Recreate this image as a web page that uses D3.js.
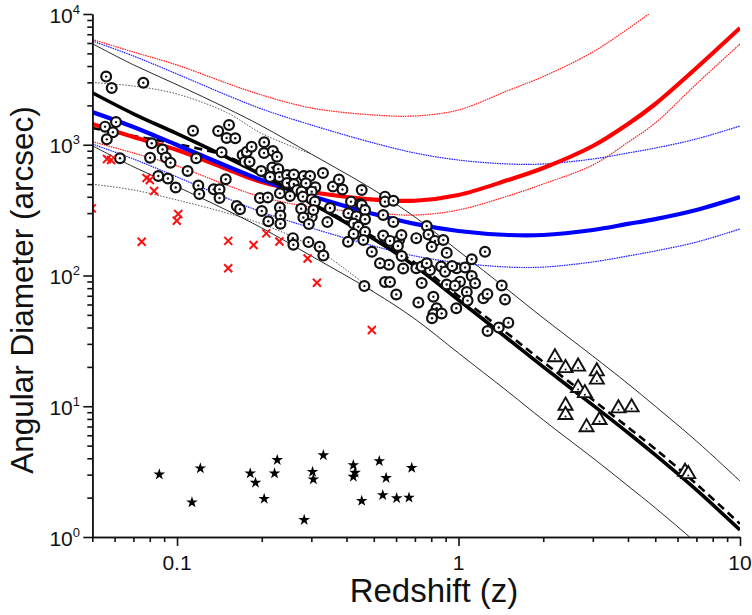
<!DOCTYPE html>
<html>
<head>
<meta charset="utf-8">
<script src="https://cdn.jsdelivr.net/npm/d3@7"></script>
<style>
body { margin: 0; background: #fff; }
text { font-family: "Liberation Sans", Arial, sans-serif; fill: #111; }
</style>
</head>
<body>
<div id="chart"></div>
<script>

// redshift grid shared by the model curves
var zGrid = [0.05, 0.07, 0.1, 0.15, 0.2, 0.3, 0.5, 0.7, 1, 1.5, 2, 3, 4, 5, 7, 10];

var blackModel   = [2500, 1725, 1215, 803, 587, 358, 190, 118, 65, 32.7, 20, 10.2, 6.27, 4.24, 2.29, 1.13];
var blackDashed  = [1343, 1167, 1014, 815, 597, 365, 197, 125, 69.7, 35.7, 21.8, 11.2, 6.90, 4.71, 2.54, 1.26];
var blackUpper   = [5930, 4085, 2878, 1904, 1391, 849, 451, 280, 154, 77.5, 47.3, 24.2, 14.85, 10.0, 5.42, 2.68];
var blackLower   = [984, 678, 478, 316, 231, 141, 74.8, 46.5, 25.5, 12.9, 7.85, 4.02, 2.46, 1.67, 0.90, 0.445];

var redModel     = [1442, 1146, 912, 653, 519, 435, 381, 373, 413, 537, 664, 978, 1442, 2050, 3865, 7816];
var redUpper     = [6390, 5120, 4074, 2960, 2400, 1910, 1689, 1660, 1845, 2600, 3326, 5120, 7710, 10860, null, null];
var redLower     = [1056, 865, 688, 492, 398, 334, 301, 290, 317, 406, 501, 700, 1045, 1466, 2915, 5900];

var blueModel    = [1779, 1367, 995, 688, 537, 406, 295, 248, 219, 204, 204, 223, 248, 270, 317, 398];
var blueUpper    = [6215, 4775, 3475, 2400, 1877, 1416, 1031, 865, 764, 713, 713, 778, 865, 944, 1107, 1391];
var blueLower    = [1013, 778, 567, 391, 306, 231, 168, 141, 125, 116, 116, 127, 141, 154, 180, 227];

// thin gray low-z curves
var grayUpperZ   = [0.05, 0.07, 0.1, 0.15, 0.2, 0.3];
var grayUpper    = [2990, 2813, 2444, 1765, 1219, 849];
var grayLowerZ   = [0.05, 0.07, 0.1, 0.15, 0.2, 0.3, 0.4, 0.5];
var grayLower    = [499, 451, 378, 301, 248, 168, 110, 75];

// [z, angular diameter]
var radioSources = [
[0.056,3320],[0.0586,2720],[0.0759,2980],[0.0607,1490],[0.0555,1375],[0.0592,1245],[0.0563,1100],[0.0627,788],[0.0813,1026],[0.0802,796],
[0.0888,920],[0.0913,799],[0.0948,729],[0.0858,577],[0.0928,552],[0.0989,471],[0.109,630],[0.117,788],[0.114,1280],[0.119,488],
[0.120,420],[0.140,1274],[0.153,1416],[0.150,1126],[0.161,1120],[0.144,875],[0.135,456],[0.1416,456],[0.149,544],[0.1416,392],
[0.163,340],[0.1674,321],[0.171,835],[0.177,885],[0.184,966],[0.174,742],[0.181,742],[0.204,1044],[0.2037,865],[0.219,896],
[0.2265,810],[0.199,630],[0.218,670],[0.229,652],[0.231,567],[0.214,567],[0.246,587],[0.260,592],[0.282,577],[0.297,577],
[0.330,608],[0.246,510],[0.260,501],[0.267,451],[0.287,507],[0.310,473],[0.301,438],[0.358,480],[0.376,542],[0.387,455],
[0.453,451],[0.232,425],[0.252,406],[0.277,438],[0.280,401],[0.301,383],[0.197,392],[0.210,395],[0.309,367],[0.3495,328],
[0.415,367],[0.447,352],[0.548,401],[0.548,367],[0.587,373],[0.200,311],[0.232,331],[0.233,288],[0.211,260],[0.233,249],
[0.276,324],[0.301,282],[0.281,278],[0.294,248],[0.305,317],[0.342,256],[0.406,299],[0.453,346],[0.4655,317],[0.434,284],
[0.4655,269],[0.424,250],[0.4405,236],[0.4655,216],[0.424,208],[0.405,181],[0.459,187],[0.540,290],[0.587,257],[0.492,152],
[0.540,202],[0.571,184],[0.615,187],[0.627,204],[0.609,168],[0.566,121],[0.526,124],[0.628,141],[0.636,113],[0.258,193],
[0.259,172],[0.293,180],[0.321,166],[0.331,142],[0.463,83],[0.771,239],[0.782,206],[0.708,193],[0.825,184],[0.883,187],
[0.803,166],[0.908,149],[1.242,152],[1.114,133],[0.548,89.2],[0.571,89.2],[0.601,71.6],[0.708,113.5],[0.740,117],[0.792,110],
[0.771,124],[0.867,117],[0.896,107],[0.740,87.7],[0.908,85.3],[0.985,113.5],[1.055,115],[1.114,99],[1.145,87.2],[1.012,89.7],
[1.07,74.8],[1.077,64.3],[0.982,56.2],[1.225,66.9],[1.266,72.2],[1.424,83.9],[1.463,65.5],[0.720,62.1],[0.814,68.8],[0.836,56.2],
[0.814,50.8],[0.871,51.2],[0.805,47.1],[1.268,37.6],[1.39,40.0],[1.503,43.6],[0.949,118],[0.971,83.6]
];

var clusters = [
[0.0498,326],[0.0564,778],[0.0583,764],[0.0779,557],[0.080,538],[0.0829,443],[0.0749,181],[0.101,295],[0.0998,262],
[0.152,184],[0.152,113.5],[0.187,171],[0.2075,210],[0.231,182],[0.291,135],[0.314,88],[0.492,38.3]
];

var highZ = [
[2.20,23.7],[2.40,19.6],[2.66,20.1],[3.10,18.5],[3.10,16.0],[2.66,13.8],[2.81,12.6],[2.40,10.1],
[2.40,8.57],[3.70,9.64],[4.12,9.82],[3.17,7.85],[2.85,6.91],[6.38,3.15],[6.55,3.03]
];

var compact = [
[0.0865,3.01],[0.113,1.84],[0.121,3.35],[0.182,3.07],[0.190,2.60],[0.204,1.96],[0.222,3.07],[0.227,3.88],
[0.283,1.35],[0.303,3.15],[0.305,2.76],[0.331,4.22],[0.423,3.55],[0.429,3.10],[0.423,2.89],[0.453,1.89],
[0.523,3.81],[0.538,2.09],[0.553,2.83],[0.603,1.98],[0.667,2.00],[0.682,3.38]
];

var xMajor = [0.1, 1, 10];
var xLabels = ["0.1", "1", "10"];
var yMajor = [1, 10, 100, 1000, 10000];
var yExp = ["0", "1", "2", "3", "4"];


var width = 752, height = 615;
var padL = 92.3, padR = 740, padT = 14, padB = 537;

var svg = d3.select("#chart")
    .append("svg")
    .attr("width", width)
    .attr("height", height);

svg.append("rect").attr("width", width).attr("height", height).attr("fill", "#fff");

var x = d3.scaleLog().domain([0.05, 10]).range([padL, padR]);
var y = d3.scaleLog().domain([1, 10000]).range([padB, padT]);

svg.append("clipPath").attr("id", "plot")
    .append("rect")
    .attr("x", padL).attr("y", padT)
    .attr("width", padR - padL).attr("height", padB - padT);

var curves = svg.append("g").attr("clip-path", "url(#plot)");

var line = d3.line()
    .defined(function(d) { return d[1] != null; })
    .x(function(d) { return x(d[0]); })
    .y(function(d) { return y(d[1]); })
    .curve(d3.curveCatmullRom.alpha(0.5));

function drawCurve(zs, vals, color, w, dash) {
    var pts = zs.map(function(z, i) { return [z, vals[i]]; });
    curves.append("path")
        .datum(pts)
        .attr("fill", "none")
        .attr("stroke", color)
        .attr("stroke-width", w)
        .attr("stroke-dasharray", dash || null)
        .attr("d", line);
}

// thin envelopes first
drawCurve(grayUpperZ, grayUpper, "#555", 1, "1.5,1.5");
drawCurve(grayLowerZ, grayLower, "#555", 1, "1.5,1.5");
drawCurve(zGrid, blackUpper, "#111", 0.9);
drawCurve(zGrid, blackLower, "#111", 0.9);
drawCurve(zGrid, redUpper, "#ff2020", 1.2, "1.6,0.8");
drawCurve(zGrid, redLower, "#ff2020", 1.2, "1.6,0.8");
drawCurve(zGrid, blueUpper, "#2020ff", 1.2, "1.6,0.8");
drawCurve(zGrid, blueLower, "#2020ff", 1.2, "1.6,0.8");

// model lines
drawCurve(zGrid, blackDashed, "#000", 2.6, "8,5");
drawCurve(zGrid, redModel, "#ff0000", 4.2);
drawCurve(zGrid, blueModel, "#0000ff", 4.2);
drawCurve(zGrid, blackModel, "#000", 3.6);

// markers
var marks = svg.append("g").attr("clip-path", "url(#plot)");

var rs = marks.selectAll("g.src")
    .data(radioSources)
    .enter()
    .append("g")
    .attr("class", "src")
    .attr("transform", function(d) { return "translate(" + x(d[0]) + "," + y(d[1]) + ")"; });
rs.append("circle").attr("r", 4.9).attr("fill", "#fff").attr("stroke", "#111").attr("stroke-width", 2.2);
rs.append("circle").attr("r", 1.2).attr("fill", "#111");

marks.selectAll("path.cl")
    .data(clusters)
    .enter()
    .append("path")
    .attr("class", "cl")
    .attr("d", "M-4,-4L4,4M-4,4L4,-4")
    .attr("stroke", "#ff1010")
    .attr("stroke-width", 2)
    .attr("transform", function(d) { return "translate(" + x(d[0]) + "," + y(d[1]) + ")"; });

var tri = marks.selectAll("g.hz")
    .data(highZ)
    .enter()
    .append("g")
    .attr("class", "hz")
    .attr("transform", function(d) { return "translate(" + x(d[0]) + "," + y(d[1]) + ")"; });
tri.append("path")
    .attr("d", d3.symbol(d3.symbolTriangle, 85))
    .attr("fill", "#fff").attr("stroke", "#111").attr("stroke-width", 1.9);
tri.append("circle").attr("cy", 1.5).attr("r", 1).attr("fill", "#111");

marks.selectAll("path.st")
    .data(compact)
    .enter()
    .append("path")
    .attr("class", "st")
    .attr("d", d3.symbol(d3.symbolStar, 42))
    .attr("fill", "#000")
    .attr("transform", function(d) { return "translate(" + x(d[0]) + "," + y(d[1]) + ")"; });

// axes
function minorTicks(lo, hi) {
    var t = [];
    for (var p = lo; p < hi; p++) {
        for (var k = 1; k < 10; k++) {
            var v = k * Math.pow(10, p);
            t.push(+v.toPrecision(3));
        }
    }
    return t;
}

var xMinor = minorTicks(-2, 1).filter(function(v) { return v >= 0.05 && v <= 10 && xMajor.indexOf(v) < 0; });
var yMinor = minorTicks(0, 4).filter(function(v) { return yMajor.indexOf(v) < 0; });

var xAxisMinor = d3.axisBottom(x).tickValues(xMinor).tickSize(5).tickSizeOuter(0).tickFormat("");
var xAxisMajor = d3.axisBottom(x).tickValues(xMajor).tickSize(9).tickSizeOuter(0).tickFormat("");
var yAxisMinor = d3.axisLeft(y).tickValues(yMinor).tickSize(5).tickSizeOuter(0).tickFormat("");
var yAxisMajor = d3.axisLeft(y).tickValues(yMajor).tickSize(9).tickSizeOuter(0).tickFormat("");

[xAxisMinor, xAxisMajor].forEach(function(ax) {
    svg.append("g").attr("class", "axis").attr("transform", "translate(0," + padB + ")").call(ax);
});
[yAxisMinor, yAxisMajor].forEach(function(ax) {
    svg.append("g").attr("class", "axis").attr("transform", "translate(" + padL + ",0)").call(ax);
});
svg.selectAll(".axis path, .axis line").attr("stroke", "#111").attr("stroke-width", 1.6);

svg.selectAll("text.xlab")
    .data(xMajor)
    .enter()
    .append("text")
    .attr("class", "xlab")
    .attr("x", function(d) { return x(d); })
    .attr("y", 570)
    .attr("text-anchor", "middle")
    .attr("font-size", 21)
    .text(function(d, i) { return xLabels[i]; });

var yl = svg.selectAll("text.ylab")
    .data(yMajor)
    .enter()
    .append("text")
    .attr("class", "ylab")
    .attr("x", 80)
    .attr("y", function(d) { return y(d) + 8.5; })
    .attr("text-anchor", "end")
    .attr("font-size", 21);
yl.append("tspan").text("10");
yl.append("tspan").attr("dy", -9).attr("font-size", 13).text(function(d, i) { return yExp[i]; });

svg.append("text")
    .attr("x", 434)
    .attr("y", 602)
    .attr("text-anchor", "middle")
    .attr("font-size", 33)
    .text("Redshift (z)");

svg.append("text")
    .attr("transform", "translate(33,290) rotate(-90)")
    .attr("text-anchor", "middle")
    .attr("font-size", 31.5)
    .text("Angular Diameter (arcsec)");

</script>
</body>
</html>
